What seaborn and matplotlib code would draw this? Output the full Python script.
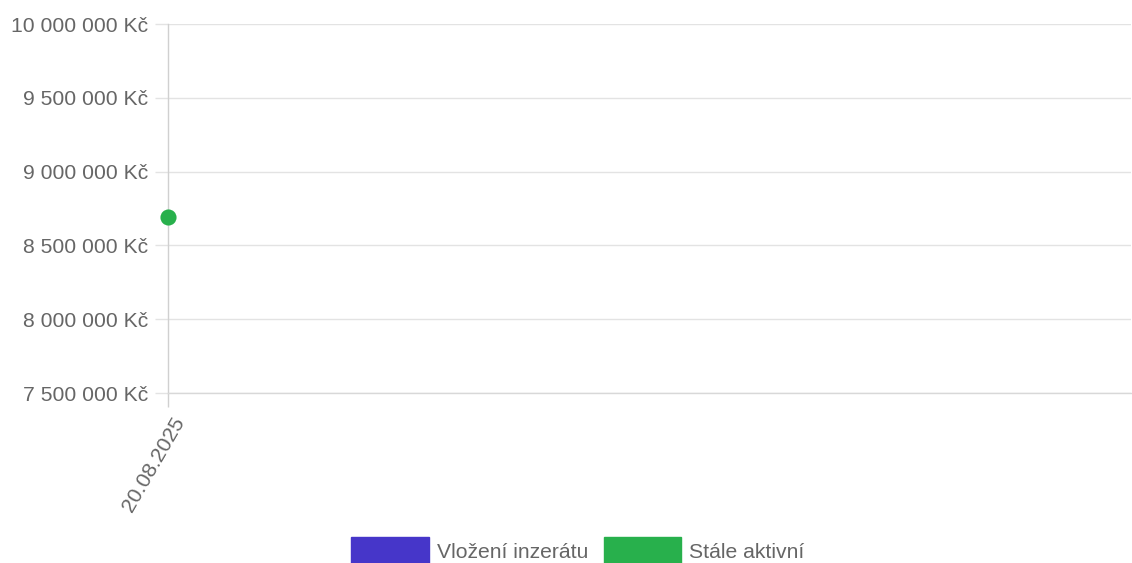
import matplotlib
matplotlib.use("Agg")
import matplotlib.pyplot as plt
import matplotlib.patches as mpatches
import seaborn as sns
import pandas as pd

dates = ["20.08.2025"]
prices = [8690000]
series_names = ["Vložení inzerátu", "Stále aktivní"]
series_colors = ["#4636c9", "#28b04c"]
y_ticks = [7500000, 8000000, 8500000, 9000000, 9500000, 10000000]

sns.set_theme(style="white")
plt.rcParams["font.family"] = ["Liberation Sans", "DejaVu Sans"]

df = pd.DataFrame({"idx": list(range(len(dates))), "date": dates, "price": prices})

fig = plt.figure(figsize=(11.32, 5.63), dpi=100)
ax = fig.add_axes([168 / 1132, 1 - 393 / 563, 1 - 168 / 1132 - 0.001, (393 - 24) / 563])

sns.scatterplot(data=df, x="idx", y="price", ax=ax, color=series_colors[1], s=135,
                edgecolor=series_colors[1], linewidth=0, zorder=5, clip_on=False, legend=False)

ax.set_xlim(0, 1)
ax.set_ylim(y_ticks[0], y_ticks[-1])
ax.set_yticks(y_ticks)
ax.set_yticklabels([f"{v:,}".replace(",", " ") + " Kč" for v in y_ticks])
ax.set_xticks(df["idx"])
ax.set_xticklabels([""] * len(dates))
ax.set_xlabel("")
ax.set_ylabel("")

for i, d in zip(df["idx"], df["date"]):
    ax.annotate(d, xy=(i, 0), xycoords=("data", "axes fraction"),
                xytext=(12, -26), textcoords="offset pixels",
                rotation=60, ha="right", va="center", rotation_mode="anchor",
                fontsize=15.2, color="#666666", annotation_clip=False)

for s in ["top", "right"]:
    ax.spines[s].set_visible(False)
ax.spines["left"].set_color("#d0d0d0")
ax.spines["left"].set_linewidth(1.0)
ax.spines["bottom"].set_color("#d8d8d8")
ax.spines["bottom"].set_linewidth(1.0)

ax.grid(axis="y", color="#e3e3e3", linewidth=1.0)
ax.grid(axis="x", visible=False)
ax.tick_params(axis="y", length=9.4, width=1.0, color="#e3e3e3", pad=5,
               labelsize=15.2, labelcolor="#666666", left=True)
ax.tick_params(axis="x", length=10, width=1.0, color="#d0d0d0", pad=0, bottom=True)
ax.set_axisbelow(True)

handles = [mpatches.Patch(facecolor=c, edgecolor=c, label=n) for n, c in zip(series_names, series_colors)]
fig.legend(handles=handles, loc="center", bbox_to_anchor=(578 / 1132, 1 - 551 / 563),
           ncol=2, frameon=False, fontsize=15.2, handlelength=3.69, handleheight=1.6,
           handletextpad=0.38, columnspacing=0.71, labelcolor="#666666")

fig.savefig("out.png", dpi=100)
